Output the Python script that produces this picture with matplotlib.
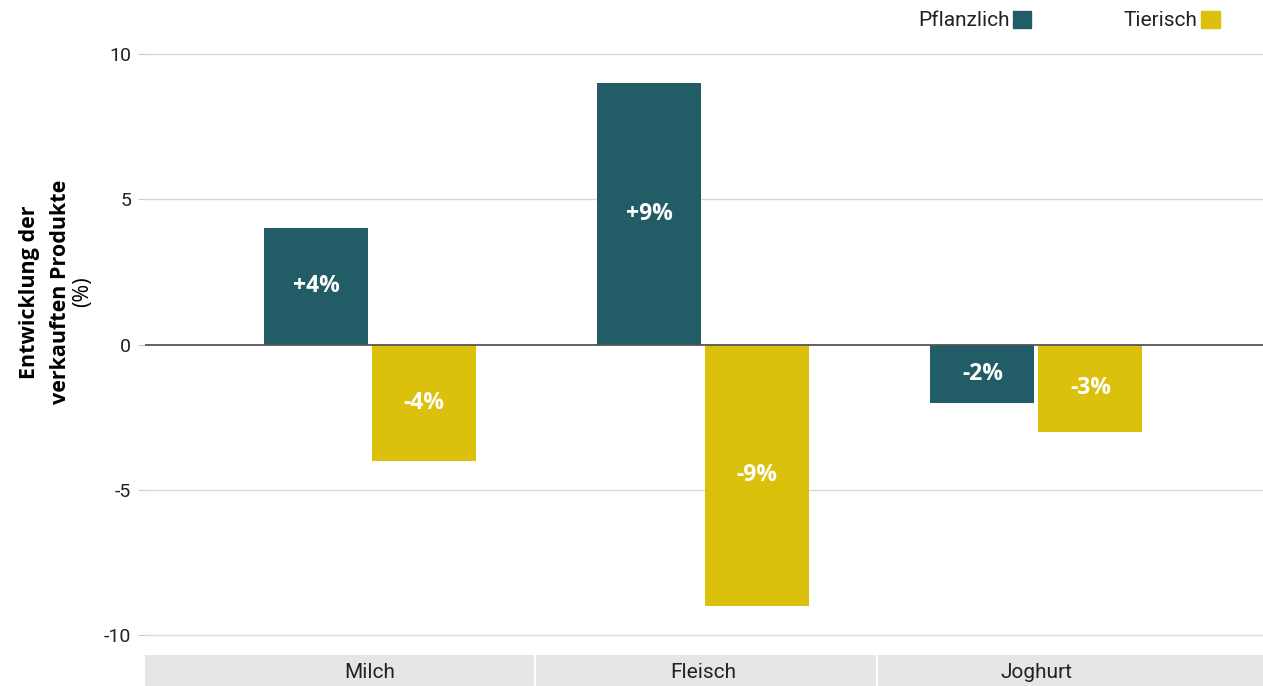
import matplotlib.pyplot as plt
import numpy as np

categories = ["Milch", "Fleisch", "Joghurt"]
pflanzlich = [4, 9, -2]
tierisch = [-4, -9, -3]
labels_pfl = ["+4%", "+9%", "-2%"]
labels_tier = ["-4%", "-9%", "-3%"]
yticks = [-10, -5, 0, 5, 10]

c_pfl = "#225c66"
c_tier = "#dbc10b"

W, H = 1263, 686
fig = plt.figure(figsize=(W / 100, H / 100), dpi=100)

# main axes, pixel geometry from reference
left, right, top, bottom = 145, 1263, 40, 650
ax = fig.add_axes([left / W, 1 - bottom / H, (right - left) / W, (bottom - top) / H])
ppu = (635 - 54) / 20.0
ax.set_ylim(-10 - (bottom - 635) / ppu, 10 + (54 - top) / ppu)
ax.set_xlim(-0.675, 2.68)

x = np.arange(len(categories))
w = 0.312
gap = 0.006
b1 = ax.bar(x - w / 2 - gap, pflanzlich, w, color=c_pfl, zorder=3)
b2 = ax.bar(x + w / 2 + gap, tierisch, w, color=c_tier, zorder=3)

for bars, labs in ((b1, labels_pfl), (b2, labels_tier)):
    for r, lab in zip(bars, labs):
        ax.text(r.get_x() + r.get_width() / 2, r.get_y() + r.get_height() / 2, lab,
                ha="center", va="center", color="white", fontsize=16.5,
                fontweight="bold", family="Open Sans", zorder=4)

for v in yticks:
    if v == 0:
        ax.axhline(0, color="#555555", lw=1.3, zorder=4)
    else:
        ax.axhline(v, color="#d9d9d9", lw=1, zorder=1)

ax.set_yticks(yticks)
ax.set_yticklabels([str(v) for v in yticks], family="Roboto",
                   fontsize=14, color="#222222")
ax.tick_params(axis="y", length=5, color="#cccccc", pad=5)
ax.set_xticks([])
for s in ax.spines.values():
    s.set_visible(False)

# category band below the plot
bax = fig.add_axes([left / W, 0, (right - left) / W, (H - 655) / H])
bax.set_xlim(ax.get_xlim())
bax.set_ylim(0, 1)
bounds = [-0.675, 0.495, 1.522, 2.68]
for i, cat in enumerate(categories):
    bax.axvspan(bounds[i], bounds[i + 1], color="#e5e6e8", lw=0)
    bax.text(x[i], 0.45, cat, ha="center", va="center", fontsize=15,
             family="Roboto", color="#222222")
for bnd in bounds[1:-1]:
    bax.axvline(bnd, color="white", lw=1.5)
bax.axis("off")

# y label
fig.text(30 / W, 1 - 292 / H, "Entwicklung der", rotation=90, ha="center",
         va="center", fontsize=15.5, fontweight="bold", family="Open Sans")
fig.text(60 / W, 1 - 292 / H, "verkauften Produkte", rotation=90, ha="center",
         va="center", fontsize=15.5, fontweight="bold", family="Open Sans")
fig.text(83 / W, 1 - 292 / H, "(%)", rotation=90, ha="center",
         va="center", fontsize=15.5, family="Open Sans")

# legend: text then square
fig.text(1010 / W, 1 - 20 / H, "Pflanzlich", ha="right", va="center",
         fontsize=15, family="Roboto", color="#222222")
fig.patches.append(plt.Rectangle((1013 / W, 1 - 28 / H), 18 / W, 17 / H,
                                 transform=fig.transFigure, color=c_pfl))
fig.text(1197 / W, 1 - 20 / H, "Tierisch", ha="right", va="center",
         fontsize=15, family="Roboto", color="#222222")
fig.patches.append(plt.Rectangle((1201 / W, 1 - 28 / H), 19 / W, 17 / H,
                                 transform=fig.transFigure, color=c_tier))

fig.savefig("out.png", dpi=100)
